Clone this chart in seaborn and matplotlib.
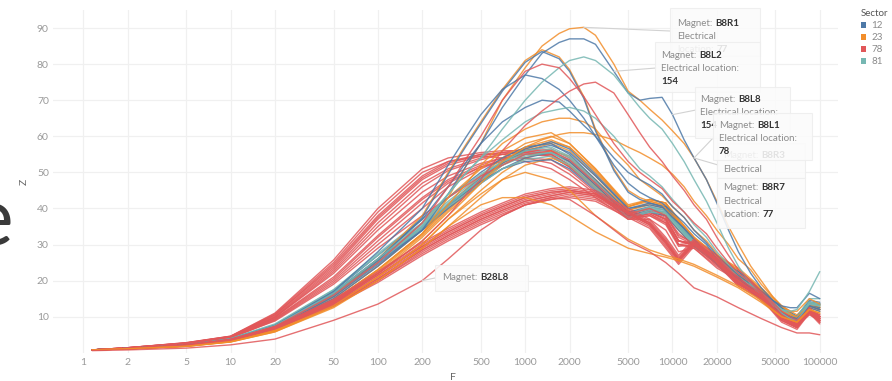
import matplotlib
matplotlib.use("Agg")
import matplotlib.pyplot as plt
import pandas as pd
import seaborn as sns
from matplotlib.patches import Patch, Rectangle

sns.set_theme(style="white")
plt.rcParams["font.family"] = ["Lato", "DejaVu Sans"]

# ---------------------------------------------------------------- data
freq = [1.15, 2, 5, 10, 20, 50, 100, 200, 300, 500, 700, 1000, 1500, 2000, 3000,
        5000, 7000, 9000, 11000, 14000, 20000, 28000, 40000, 55000, 70000, 85000, 100000]
freq_high = [1.15, 2, 5, 10, 20, 50, 100, 200, 300, 400, 500, 700, 1000, 1300, 1700, 2000, 2500,
             3000, 4000, 5000, 6000, 7000, 8500, 10000, 12000, 14000, 17000, 20000, 24000, 28000,
             34000, 40000, 48000, 55000, 63000, 70000, 85000, 100000]

sectors = ["12", "23", "78", "81"]
sector_colors = ["#4e79a7", "#f28e2b", "#e15759", "#76b7b2"]
x_ticks = [1, 2, 5, 10, 20, 50, 100, 200, 500, 1000, 2000, 5000, 10000, 20000, 50000, 100000]
y_ticks = [10, 20, 30, 40, 50, 60, 70, 80, 90]

# main bundle (on freq)
z_m01 = [0.8, 1.2, 2.0, 3.5, 7.0, 15.5, 25, 36, 43, 51, 56, 59.5, 61, 58, 51, 40.5, 42.5, 41.5, 37, 32, 27, 23, 17.5, 12.5, 10, 14, 13]
z_m02 = [0.8, 1.1, 1.9, 3.2, 6.2, 13.5, 22, 32, 39, 47, 52, 56, 58, 56, 49, 39.5, 41.5, 40.5, 36, 31, 26, 22.5, 17, 12, 9.5, 13.5, 12.5]
z_m03 = [0.8, 1.1, 1.8, 3.0, 5.8, 12.8, 20, 29, 35, 43, 48, 52, 54, 52, 46, 38.5, 40, 38.5, 34, 29.5, 25, 21.5, 16, 11.5, 9, 13, 12]
z_m04 = [0.8, 1.2, 2.1, 3.8, 7.6, 17, 27, 37, 43, 50, 54, 57, 58, 55, 48, 39, 40.5, 39.5, 35, 30.5, 25.5, 22, 16.5, 12, 10, 14, 13.5]
z_m05 = [0.8, 1.2, 2.0, 3.6, 7.2, 16, 25, 34, 40, 47, 51, 54, 55.5, 53, 46.5, 38, 39.5, 39, 35, 30, 25.5, 21.5, 17, 12.5, 10, 14.5, 14]
z_m06 = [0.8, 1.2, 2.2, 3.9, 7.8, 17.4, 27, 36, 42, 49, 53, 56, 57, 54.5, 47.5, 38.5, 40, 39.5, 35.5, 31, 26, 22, 16.5, 12, 9.5, 14, 13.5]
z_m07 = [0.8, 1.2, 2.1, 3.7, 7.4, 16.5, 25.5, 34.5, 40.5, 47, 51, 53.5, 54.5, 52, 45.5, 37.5, 39, 38.5, 34.5, 30, 25, 21.5, 16, 11.5, 9.5, 13.5, 13]
z_m08 = [0.8, 1.1, 1.9, 3.3, 6.5, 14.5, 23, 33, 40, 48, 53, 57, 59, 57, 50, 40.5, 42, 41, 36.5, 31.5, 26.5, 23, 17.5, 12.5, 10, 13.5, 12.5]
z_m09 = [0.8, 1.2, 2.1, 3.7, 7.3, 16.5, 26, 35, 41, 47.5, 51, 53, 53.5, 51, 45, 37.5, 39, 38, 34, 29.5, 25, 21, 16, 11.5, 9, 13, 12.5]
z_m10 = [0.8, 1.2, 2.2, 4.0, 8.0, 17.5, 27.5, 37, 43, 49.5, 53, 55, 55.5, 52.5, 46, 37.5, 39.5, 39, 35, 30.5, 25.5, 22, 16.5, 12, 10, 15, 15]
z_m11 = [0.8, 1.1, 1.8, 3.1, 6.0, 13, 21, 30, 37, 45, 50, 54, 56, 54.5, 48, 39.5, 41, 40, 35.5, 30.5, 25.5, 22, 16.5, 11.5, 9, 12.5, 11.5]
z_m12 = [0.8, 1.3, 2.4, 4.3, 8.8, 19, 29, 38, 43, 49, 52, 55, 56, 53.5, 47, 38.5, 40, 38, 33, 30, 25, 21, 15.5, 11, 8.5, 12, 10.5]
z_m13 = [0.8, 1.2, 2.0, 3.5, 7.0, 15.5, 24.5, 34, 40.5, 48, 52.5, 56, 57.5, 55.5, 49, 40, 41, 40, 36, 31, 26, 22.5, 17, 12.5, 10, 14, 13.5]
z_m14 = [0.8, 1.2, 2.1, 3.8, 7.5, 16.8, 26, 35.5, 41.5, 48, 52, 55, 56.5, 54, 47, 38.5, 40.5, 39.5, 35, 30.5, 25.5, 22, 16.5, 12, 9.5, 14, 13]
z_m15 = [0.8, 1.1, 1.9, 3.4, 6.8, 15, 24, 34, 41, 49, 54, 58, 60, 58, 51, 41, 42.5, 41.5, 37, 32, 27, 23.5, 18, 13, 10.5, 14, 13]
z_m16 = [0.8, 1.2, 2.0, 3.6, 7.1, 16, 25, 34.5, 41, 48.5, 53, 56.5, 58.5, 56.5, 49.5, 40, 41.5, 40.5, 36, 31, 26, 22.5, 17, 12.5, 10, 14, 13.5]
z_m17 = [0.8, 1.1, 1.9, 3.2, 6.3, 14, 22.5, 32.5, 39.5, 47.5, 52.5, 56.5, 58.5, 57, 50.5, 40.5, 42.5, 41.5, 36.5, 31, 26, 22.5, 17, 12, 9.5, 13.5, 12.5]
z_m18 = [0.8, 1.2, 2.1, 3.7, 7.3, 16.2, 25.5, 35, 41, 48, 52, 54.5, 55.5, 53.5, 47, 38.5, 40, 39, 35, 30, 25, 21.5, 16, 11.5, 9.5, 14, 13.5]

# early-rising sector 78 magnets (on freq)
z_r01 = [0.8, 1.4, 2.8, 4.6, 11, 25.7, 40, 51, 54, 55.5, 56, 56, 55, 52, 46, 38, 39, 37, 31, 30, 25, 21, 15.5, 10.5, 8, 11.5, 9.5]
z_r02 = [0.8, 1.4, 2.7, 4.5, 10.5, 24.5, 38, 49, 53, 55, 55.5, 55.5, 54.5, 51.5, 45.5, 37.5, 38.5, 36, 30, 30.5, 24.5, 20.5, 15, 10, 7.5, 11, 9]
z_r03 = [0.8, 1.4, 2.6, 4.4, 10, 23, 36, 47, 51, 54, 55, 55.5, 55, 52, 46, 38, 39, 37, 31, 30.5, 25, 21, 15.5, 10.5, 8, 11.5, 10]
z_r04 = [0.8, 1.3, 2.6, 4.3, 9.8, 22, 34, 44.5, 49, 52.5, 54, 55, 54.5, 51.5, 45.5, 37.5, 38.5, 36.5, 30, 29.5, 24.5, 20.5, 15, 10, 8, 11, 9.5]
z_r05 = [0.8, 1.3, 2.5, 4.2, 9.5, 21, 32.5, 43, 48, 52, 54, 55, 55, 52, 46, 38, 39.5, 37.5, 31, 30, 25, 21, 15.5, 10.5, 8, 11.5, 10]
z_r06 = [0.8, 1.3, 2.5, 4.1, 9.2, 20, 31, 41.5, 47, 51.5, 53.5, 55, 55.5, 53, 47, 38.5, 40, 38, 32, 30, 25, 21, 16, 11, 8.5, 12, 10]
z_r07 = [0.8, 1.4, 2.8, 4.6, 10.8, 25, 39, 50, 53, 54.5, 54, 53, 51, 48, 43, 37, 37, 34, 28, 29, 23.5, 20, 14.5, 9.5, 7.5, 10.5, 9]
z_r08 = [0.8, 1.3, 2.4, 4.0, 9.0, 19.5, 30, 40, 46, 51, 53.5, 55.5, 56.5, 54, 47.5, 39, 40, 38, 32.5, 30.5, 25.5, 21.5, 16, 11, 8.5, 12, 10.5]
z_r09 = [0.8, 1.4, 2.7, 4.5, 10.5, 24, 37.5, 48.5, 52.5, 55, 55, 54, 52.5, 49.5, 44, 37.5, 38, 35.5, 29.5, 30, 24.5, 20.5, 15, 10, 7.5, 11, 9]
z_r10 = [0.8, 1.3, 2.6, 4.3, 9.8, 22.5, 35, 46, 50.5, 53.5, 55, 56, 56, 53, 46.5, 38, 39, 37, 31, 30, 25, 21, 15.5, 10.5, 8, 11.5, 10]
z_r11 = [0.8, 1.4, 2.7, 4.5, 10.2, 23.5, 37, 48, 52, 54.5, 55.5, 56.5, 56, 53, 46.5, 38, 39, 37, 31, 30, 25, 21, 15.5, 10.5, 8, 11.5, 10]
z_r12 = [0.8, 1.3, 2.5, 4.2, 9.4, 20.5, 32, 42.5, 47.5, 51.5, 53, 54, 53.5, 50.5, 44.5, 37, 38, 36, 30, 29, 24, 20, 14.5, 10, 7.5, 11, 9.5]

# flat sector 78 magnets (on freq)
z_f01 = [0.8, 1.2, 2.1, 3.6, 7.0, 14, 21, 29, 33, 37.5, 40, 42.5, 44, 45, 44, 39, 36, 31, 26, 31, 26, 19.5, 16, 9.5, 7.5, 12, 9]
z_f02 = [0.8, 1.2, 2.0, 3.5, 6.8, 13.5, 20, 28, 32, 36.5, 39, 41.5, 43, 44, 43, 38.5, 35.5, 30, 25.5, 30.5, 25.5, 19, 15.5, 9, 7, 11.5, 8.5]
z_f03 = [0.8, 1.2, 2.1, 3.7, 7.2, 14.5, 22, 30, 34, 38.5, 41, 43.5, 45, 45.5, 44.5, 39.5, 36.5, 31.5, 26.5, 31, 26.5, 20, 16, 10, 8, 12.5, 9.5]
z_f04 = [0.8, 1.2, 2.0, 3.4, 6.6, 13, 19.5, 27, 31, 35.5, 38, 41, 42.5, 43.5, 42.5, 38, 35, 29.5, 25, 30, 25, 18.5, 15, 9, 7, 11, 8.5]
z_f05 = [0.8, 1.2, 2.1, 3.6, 7.1, 14, 21.5, 29.5, 33.5, 38, 40.5, 43, 44.5, 45, 44, 39, 36, 31, 26, 30.5, 26, 19.5, 15.5, 9.5, 7.5, 12, 9]
z_f06 = [0.8, 1.2, 2.0, 3.5, 6.9, 13.8, 20.5, 28.5, 32.5, 37, 39.5, 42, 43.5, 44.5, 43.5, 38.5, 35.5, 30.5, 25.5, 30, 25.5, 19, 15.5, 9.5, 7, 11.5, 8.5]
z_f07 = [0.8, 1.2, 2.1, 3.7, 7.3, 14.8, 22.5, 30.5, 34.5, 39, 41.5, 44, 45.5, 46, 45, 40, 37, 32, 27, 31.5, 27, 20.5, 16.5, 10, 8, 12.5, 9.5]
z_f08 = [0.8, 1.2, 2.0, 3.4, 6.7, 13.2, 20, 27.5, 31.5, 36, 38.5, 41, 42.5, 43, 42, 37.5, 34.5, 29, 24.5, 29.5, 24.5, 18.5, 15, 8.5, 6.5, 11, 8]
z_f09 = [0.8, 1.2, 2.1, 3.6, 7.0, 14.2, 21.5, 29.5, 33.5, 38, 40.5, 43, 44.5, 45, 44, 39, 36, 30.5, 26, 30.5, 26, 19.5, 16, 9.5, 7.5, 12, 9]
z_f10 = [0.8, 1.2, 2.0, 3.5, 6.9, 13.6, 20.5, 28.5, 32.5, 37, 39.5, 42, 43.5, 44.5, 43.5, 39, 35.5, 30.5, 25.5, 30, 25.5, 19, 15.5, 9, 7, 11.5, 8.5]

# high-peaking magnets (on freq_high)
z_b8r1 = [0.8, 1.1, 1.9, 3.4, 6.6, 14.5, 23, 33, 43, 52, 58, 70, 79, 85, 88.5, 89.8, 90.2, 88, 80, 72.5, 70, 67.5, 64.5, 61.5, 58, 54, 48, 42, 35, 30, 24, 20, 15.5, 13, 11.5, 11.5, 15, 13.5]
z_b8l2 = [0.8, 1.2, 2.0, 3.6, 7.0, 15, 24, 34, 44, 52, 58, 68, 77, 83, 86, 87, 87, 85.5, 78, 72, 70, 70.5, 70.8, 66, 59, 54, 48, 41.5, 34, 28, 22, 18, 14.5, 13, 12.5, 12.5, 16.5, 15]
z_h03 = [0.8, 1.2, 2.1, 3.7, 7.3, 16, 25, 35, 44, 50, 54, 62, 70, 75, 79, 81, 82, 81, 77, 72, 68, 65, 62, 58, 53, 48, 42, 36, 29, 24, 19, 16, 13, 12, 11.5, 12, 17, 22.5]
z_h04 = [0.8, 1.2, 2.0, 3.6, 7.2, 16, 26, 38, 50, 58, 64, 73, 81, 84, 82, 78.5, 71, 62, 51, 45, 43, 42, 41, 38, 35, 32, 28, 25, 22, 20, 17.5, 15.5, 13, 11.5, 10.5, 10, 13, 12]
z_h05 = [0.8, 1.2, 2.0, 3.6, 7.1, 15.8, 25.5, 37.5, 49.5, 57.5, 63.5, 72.5, 80.5, 83.5, 81.5, 78, 70.5, 61.5, 50.5, 44.5, 42.5, 41.5, 40.5, 37.5, 34.5, 31.5, 27.5, 24.5, 21.5, 19.5, 17, 15, 12.5, 11, 10, 9.5, 12.5, 11.5]
z_h06 = [0.8, 1.2, 2.1, 3.8, 7.6, 17, 28, 40, 52, 60, 66, 73, 77, 76, 73, 70, 65, 60, 52, 47, 44.5, 43, 41.5, 39, 36, 33, 30, 26, 22.5, 20.5, 18, 15.5, 13, 11, 10, 9, 13, 12]
z_h07 = [0.8, 1.2, 2.0, 3.5, 6.8, 14.5, 22, 31, 38, 44, 48, 56, 63, 67, 70.5, 72.5, 74.5, 75, 72, 66, 61, 57, 53, 49, 45, 41, 37, 32, 27, 23, 20, 17, 14, 11.5, 10, 9, 12, 10]
z_h08 = [0.8, 1.2, 2.1, 3.7, 7.3, 16, 25, 36, 46, 54, 60, 70, 78, 80, 79, 76, 71, 66, 58, 53, 50, 48, 45.5, 42, 39, 36, 33, 29, 25, 22, 19.5, 16.5, 13.5, 10.5, 9, 8.5, 12, 10]
z_h09 = [0.8, 1.2, 2.1, 3.7, 7.4, 16.5, 26, 37, 46, 53, 58, 64, 68, 70, 69.5, 67, 63, 60, 54, 50, 48, 46.5, 44, 40.5, 37.5, 34, 30.5, 27, 24, 21.5, 19, 16, 13, 11, 9.5, 9, 13, 12]
z_h10 = [0.8, 1.1, 1.9, 3.3, 6.5, 14.5, 23, 33, 41, 47, 52, 58, 62, 64, 65, 65, 64, 62, 56, 52, 48, 46, 43.5, 40.5, 37.5, 34, 31, 27.5, 24, 21.5, 19, 16, 13, 11, 9.5, 9, 13, 12]
z_h11 = [0.8, 1.2, 2.1, 3.8, 7.5, 16.5, 26, 36, 44, 50, 54, 59, 64, 66.5, 67.5, 68, 67, 65, 60, 55, 51, 49, 46, 42.5, 39, 35.5, 32, 28, 24.5, 22, 19.5, 16.5, 13.5, 11, 9.5, 9, 13.5, 13]
z_h12 = [0.8, 1.1, 1.9, 3.3, 6.4, 14, 22, 31, 38, 43, 47, 53, 57, 59, 60.5, 61, 61, 60.5, 59, 57, 55.5, 54, 52, 49.5, 46, 42, 38, 34, 30, 26, 23, 19, 15.5, 13, 11, 9.5, 13, 12]

# early-peaking, slowly falling magnets (on freq)
z_o01 = [0.8, 1.1, 1.8, 3.0, 5.8, 12.5, 20, 29, 35, 41, 43, 43, 41, 38, 33.5, 29, 27.5, 26.5, 25.5, 24, 21, 18, 14, 10, 8.5, 12, 11]
z_o02 = [0.8, 1.1, 1.8, 3.1, 6.0, 13, 21, 30, 37, 44, 48, 50, 48, 45, 38, 31.5, 28.5, 27, 26, 24.5, 21.5, 18.5, 14.5, 10, 8.5, 12, 11]
z_b28l8 = [0.6, 0.8, 1.3, 2.2, 3.8, 9, 13.5, 20, 26, 34, 38, 41, 43, 42.5, 38, 31, 28, 25, 22, 18, 15.5, 12.5, 9.5, 7, 5.5, 5.5, 5]

# (magnet, sector, frequencies, values), grouped into drawing layers
layer_red_steep = [("R01", "78", freq, z_r01), ("R02", "78", freq, z_r02), ("R03", "78", freq, z_r03),
                   ("R04", "78", freq, z_r04), ("R05", "78", freq, z_r05), ("R06", "78", freq, z_r06),
                   ("R07", "78", freq, z_r07), ("R08", "78", freq, z_r08), ("R09", "78", freq, z_r09),
                   ("R10", "78", freq, z_r10), ("R11", "78", freq, z_r11), ("R12", "78", freq, z_r12)]
layer_main = [("M01", "23", freq, z_m01), ("M02", "23", freq, z_m02), ("M03", "23", freq, z_m03),
              ("M04", "12", freq, z_m04), ("M05", "12", freq, z_m05), ("M06", "81", freq, z_m06),
              ("M07", "81", freq, z_m07), ("M08", "23", freq, z_m08), ("M09", "12", freq, z_m09),
              ("M10", "81", freq, z_m10), ("M11", "23", freq, z_m11), ("M12", "78", freq, z_m12),
              ("M13", "12", freq, z_m13), ("M14", "81", freq, z_m14), ("M15", "23", freq, z_m15),
              ("M16", "12", freq, z_m16), ("M17", "23", freq, z_m17), ("M18", "81", freq, z_m18)]
layer_high = [("B8R1", "23", freq_high, z_b8r1), ("B8L2", "12", freq_high, z_b8l2),
              ("H03", "81", freq_high, z_h03), ("H04", "23", freq_high, z_h04),
              ("H05", "12", freq_high, z_h05), ("H06", "12", freq_high, z_h06),
              ("H07", "78", freq_high, z_h07), ("H08", "78", freq_high, z_h08),
              ("H09", "12", freq_high, z_h09), ("H10", "23", freq_high, z_h10),
              ("H11", "81", freq_high, z_h11), ("H12", "23", freq_high, z_h12)]
layer_red_flat = [("F01", "78", freq, z_f01), ("F02", "78", freq, z_f02), ("F03", "78", freq, z_f03),
                  ("F04", "78", freq, z_f04), ("F05", "78", freq, z_f05), ("F06", "78", freq, z_f06),
                  ("F07", "78", freq, z_f07), ("F08", "78", freq, z_f08), ("F09", "78", freq, z_f09),
                  ("F10", "78", freq, z_f10)]
layer_low = [("O01", "23", freq, z_o01), ("O02", "23", freq, z_o02), ("B28L8", "78", freq, z_b28l8)]
layers = [layer_red_steep, layer_main, layer_high, layer_red_flat, layer_low]

# ---------------------------------------------------------------- figure
W, H = 892, 381
fig = plt.figure(figsize=(W / 100, H / 100), dpi=100)
ax = fig.add_axes([53 / W, 1 - 352.8 / H, (838 - 53) / W, (352.8 - 10) / H])
palette = dict(zip(sectors, sector_colors))

for layer in layers:
    rows = []
    for magnet, sector, fs, values in layer:
        for f, z in zip(fs, values):
            rows.append({"Magnet": magnet, "Sector": sector, "F": f, "Z": z})
    df = pd.DataFrame(rows)
    sns.lineplot(data=df, x="F", y="Z", hue="Sector", units="Magnet", estimator=None,
                 palette=palette, linewidth=1.0, alpha=0.85, legend=False, ax=ax, sort=False)

ax.set_xscale("log")
ax.set_xlim(0.623, 132900)
ax.set_ylim(0, 95)
ax.set_xticks(x_ticks)
ax.set_xticklabels([str(t) for t in x_ticks])
ax.minorticks_off()
ax.set_yticks(y_ticks)
ax.set_yticklabels([str(t) for t in y_ticks])
ax.tick_params(length=0, labelsize=7.5, labelcolor="#9a9a9a", pad=4)
ax.tick_params(axis="y", pad=3)
ax.grid(True, color="#f0f0f0", linewidth=0.9)
ax.set_axisbelow(True)
for s in ax.spines.values():
    s.set_visible(False)
ax.set_xlabel("F", fontsize=7.5, color="#666666")
ax.set_ylabel("Z", fontsize=7.5, color="#666666")
ax.xaxis.set_label_coords((453 - 53) / (838 - 53), -0.06)
ax.yaxis.set_label_coords((29 - 53) / (838 - 53), 0.5)

# legend
handles = [Patch(facecolor=c, edgecolor="none", label=s) for s, c in zip(sectors, sector_colors)]
leg = fig.legend(handles=handles, title="Sector", loc="upper left",
                 bbox_to_anchor=(861 / W, 1 - 9 / H), frameon=False, fontsize=7,
                 title_fontsize=7, handlelength=0.55, handleheight=0.55, handletextpad=0.5,
                 labelspacing=0.32, borderpad=0, borderaxespad=0)
leg._legend_box.align = "left"
leg.get_title().set_color("#555555")
for t in leg.get_texts():
    t.set_color("#8a8a8a")

# tooltips
renderer = fig.canvas.get_renderer()


def tooltip(box, rows, tx, ty, z):
    x0, y0, x1, y1 = box
    fig.add_artist(Rectangle((x0 / W, 1 - y1 / H), (x1 - x0) / W, (y1 - y0) / H,
                             transform=fig.transFigure, facecolor="#fbfbfb", alpha=0.88,
                             edgecolor="#eeeeee", linewidth=0.8, zorder=z))
    for i, row in enumerate(rows):
        cx = tx
        y = ty + i * 13.3
        for seg, strong in row:
            t = fig.text(cx / W, 1 - y / H, seg, fontsize=7,
                         color="#333333" if strong else "#8c8c8c",
                         fontweight="bold" if strong else "normal",
                         ha="left", va="center", zorder=z + 0.5)
            cx = t.get_window_extent(renderer).x1 + 3


def leader(f, z, px, py):
    ax.annotate("", xy=(f, z), xycoords="data", xytext=(px, H - py), textcoords="figure pixels",
                arrowprops=dict(arrowstyle="-", color="#d2d2d2", lw=0.8, shrinkA=0, shrinkB=0),
                annotation_clip=False, zorder=5)


leader(freq_high[16], z_b8r1[16], 670, 31)
leader(freq_high[18], z_b8l2[18], 656, 68)
leader(freq_high[23], z_b8l2[23], 696, 110)
leader(freq_high[25], z_b8l2[25], 714, 137)
leader(freq_high[25], z_b8r1[25], 718, 165)
leader(freq[7], z_b28l8[7], 435, 278)

tooltip((670, 8, 760, 56), [[("Magnet:", False), ("B8R1", True)], [("Electrical", False)],
                            [("location:", False), ("77", True)]], 677, 23, 10)
tooltip((655, 42, 760, 92), [[("Magnet:", False), ("B8L2", True)], [("Electrical location:", False)],
                             [("154", True)]], 661, 55, 11)
tooltip((695, 87, 790, 138), [[("Magnet:", False), ("B8L8", True)], [("Electrical location:", False)],
                              [("154", True)]], 700, 99, 12)
tooltip((717, 143, 805, 178), [[("Magnet:", False), ("B8R3", True)], [("Electrical", False)]], 723, 156, 13)
tooltip((713, 113, 812, 160), [[("Magnet:", False), ("B8L1", True)], [("Electrical location:", False)],
                               [("78", True)]], 719, 125, 14)
tooltip((717, 178, 805, 228), [[("Magnet:", False), ("B8R7", True)], [("Electrical", False)],
                               [("location:", False), ("77", True)]], 723, 188, 15)
tooltip((435, 265, 528, 291), [[("Magnet:", False), ("B28L8", True)]], 442, 278, 10)

# large letter clipped at the left margin
fig.text(13 / W, 1 - 222 / H, "e", fontsize=58, color="#3a3a3a", ha="right", va="center")

fig.savefig("out.png", dpi=100)
